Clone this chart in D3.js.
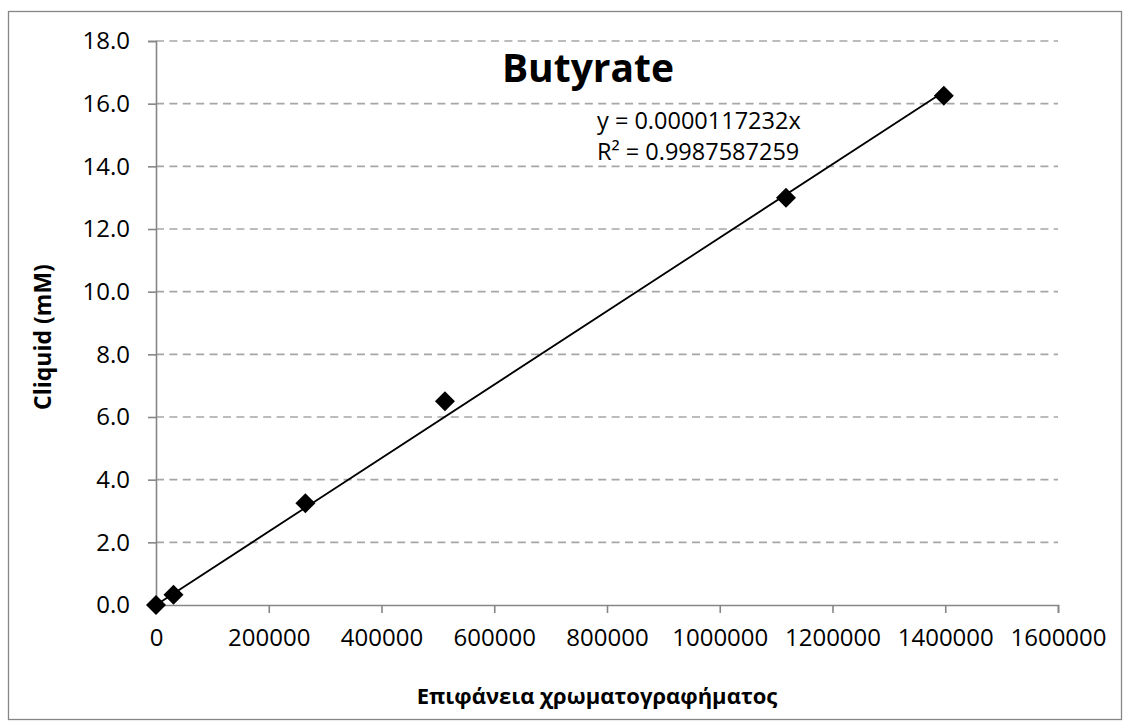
<!DOCTYPE html>
<html>
<head>
<meta charset="utf-8">
<script src="https://cdn.jsdelivr.net/npm/d3@7"></script>
<style>
  html, body { margin: 0; padding: 0; background: #fff; }
  svg { display: block; }
  text { font-family: "Open Sans", "Noto Sans", sans-serif; fill: #000; }
</style>
</head>
<body>
<svg id="chart" width="1123" height="722"></svg>
<script>
// Calibration data: chromatogram peak area vs. liquid concentration
const peakArea = [0, 31000, 265000, 512500, 1117500, 1397500];
const concentration = [0, 0.325, 3.25, 6.5, 13.0, 16.25];
const xTicks = [0, 200000, 400000, 600000, 800000, 1000000, 1200000, 1400000, 1600000];
const yTicks = [0, 2, 4, 6, 8, 10, 12, 14, 16, 18];
const slope = 0.0000117232;
const chartTitle = "Butyrate";
const equationLines = ["y = 0.0000117232x", "R\u00B2 = 0.9987587259"];
const xTitle = "Επιφάνεια χρωματογραφήματος";
const yTitle = "Cliquid (mM)";

const svg = d3.select("#chart");
const axisColor = "#868686";
const gridColor = "#a6a6a6";
const tickFont = 24;

// Outer chart frame
svg.append("rect")
  .attr("x", 8.5).attr("y", 11.5)
  .attr("width", 1113).attr("height", 708)
  .attr("fill", "none").attr("stroke", axisColor).attr("stroke-width", 1.3);

const x = d3.scaleLinear().domain([0, 1600000]).range([156, 1058]);
const y = d3.scaleLinear().domain([0, 18]).range([605, 41]);

// Horizontal dashed gridlines
svg.append("g")
  .selectAll("line")
  .data(yTicks.filter(d => d > 0))
  .join("line")
  .attr("x1", x(0)).attr("x2", x(1600000))
  .attr("y1", d => y(d)).attr("y2", d => y(d))
  .attr("stroke", gridColor).attr("stroke-width", 1.6)
  .attr("stroke-dasharray", "8,5.4");

// Y axis
const yAxis = svg.append("g")
  .attr("transform", `translate(${x(0)},0)`)
  .call(d3.axisLeft(y).tickValues(yTicks).tickFormat(d3.format(".1f")).tickSize(8).tickPadding(18));
yAxis.select(".domain").attr("stroke", axisColor).attr("stroke-width", 1.6);
yAxis.selectAll(".tick line").attr("stroke", axisColor).attr("stroke-width", 1.6);
yAxis.selectAll(".tick text")
  .attr("font-family", "'Open Sans', 'Noto Sans', sans-serif")
  .attr("font-size", tickFont).attr("fill", "#000");

// X axis
const xAxis = svg.append("g")
  .attr("transform", `translate(0,${y(0)})`)
  .call(d3.axisBottom(x).tickValues(xTicks).tickFormat(d3.format("d")).tickSize(8).tickPadding(16));
xAxis.select(".domain").attr("stroke", axisColor).attr("stroke-width", 1.6);
xAxis.selectAll(".tick line").attr("stroke", axisColor).attr("stroke-width", 1.6);
xAxis.selectAll(".tick text")
  .attr("font-family", "'Open Sans', 'Noto Sans', sans-serif")
  .attr("font-size", tickFont).attr("fill", "#000");

// Linear trendline through the origin across the data range
const xMax = d3.max(peakArea);
svg.append("line")
  .attr("x1", x(0)).attr("y1", y(0))
  .attr("x2", x(xMax)).attr("y2", y(slope * xMax))
  .attr("stroke", "#000").attr("stroke-width", 1.8);

// Diamond markers
const points = peakArea.map((a, i) => ({ a, c: concentration[i] }));
const r = 10;
svg.append("g")
  .selectAll("path")
  .data(points)
  .join("path")
  .attr("d", d => {
    const cx = x(d.a), cy = y(d.c);
    return `M${cx},${cy - r}L${cx + r},${cy}L${cx},${cy + r}L${cx - r},${cy}Z`;
  })
  .attr("fill", "#000");

// Chart title
svg.append("text")
  .attr("x", 588).attr("y", 82)
  .attr("text-anchor", "middle")
  .attr("font-size", 39).attr("font-weight", "bold")
  .text(chartTitle);

// Trendline equation
svg.append("g")
  .selectAll("text")
  .data(equationLines)
  .join("text")
  .attr("x", 597).attr("y", (d, i) => 129 + i * 31)
  .attr("font-size", 23.5)
  .text(d => d);

// Axis titles
svg.append("text")
  .attr("x", 597).attr("y", 704)
  .attr("text-anchor", "middle")
  .attr("font-size", 22).attr("font-weight", "bold")
  .text(xTitle);

svg.append("text")
  .attr("transform", "translate(51,337) rotate(-90)")
  .attr("text-anchor", "middle")
  .attr("font-size", 23).attr("font-weight", "bold")
  .text(yTitle);
</script>
</body>
</html>
